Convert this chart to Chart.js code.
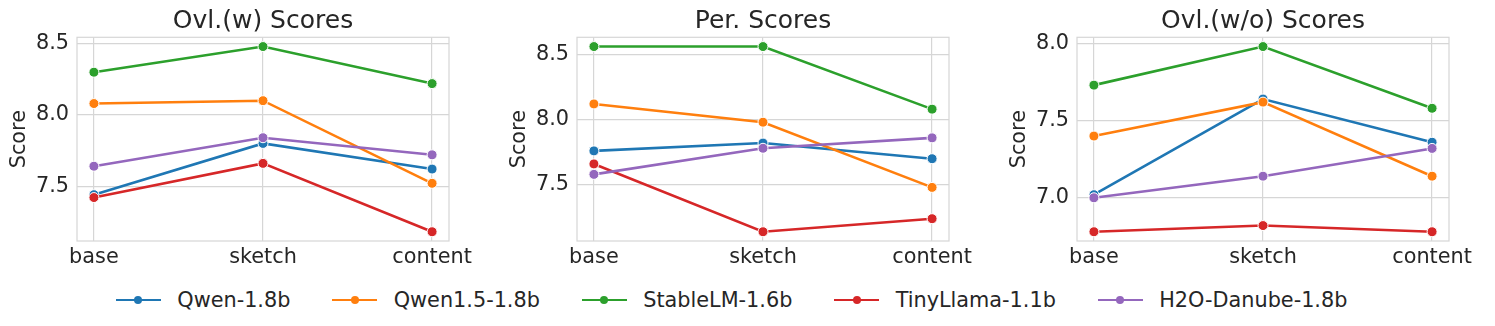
<!DOCTYPE html>
<html>
<head>
<meta charset="utf-8">
<script src="https://cdn.jsdelivr.net/npm/chart.js@4.4.1/dist/chart.umd.min.js"></script>
<style>
  html, body { margin: 0; padding: 0; background: #fff; overflow: hidden; }
  body { width: 1495px; height: 326px; position: relative; font-family: 'DejaVu Sans', sans-serif; }
  .cw { position: absolute; top: 0; width: 495px; height: 270px; }
  #legend { position: absolute; left: 116px; top: 287.5px; height: 25px; display: flex; align-items: center; color: #262626; font-size: 20.8px; white-space: nowrap; }
  .item { display: flex; align-items: center; margin-right: 42px; }
  .mk { position: relative; width: 44.7px; height: 2.6px; margin-right: 16.6px; }
  .mk i { position: absolute; left: 18.35px; top: -2.7px; width: 8px; height: 8px; border-radius: 50%; }
</style>
</head>
<body>
<div class="cw" style="left:0px"><canvas id="c1"></canvas></div>
<div class="cw" style="left:500px"><canvas id="c2"></canvas></div>
<div class="cw" style="left:1000px"><canvas id="c3"></canvas></div>
<div id="legend"></div>
<script>
// ---- data ----
const categories = ['base', 'sketch', 'content'];
const models = ['Qwen-1.8b', 'Qwen1.5-1.8b', 'StableLM-1.6b', 'TinyLlama-1.1b', 'H2O-Danube-1.8b'];
const colors = ['#1f77b4', '#ff7f0e', '#2ca02c', '#d62728', '#9467bd'];

const titles = ['Ovl.(w) Scores', 'Per. Scores', 'Ovl.(w/o) Scores'];

// Ovl.(w)
const ovlW_qwen      = [7.44, 7.80, 7.62];
const ovlW_qwen15    = [8.08, 8.10, 7.52];
const ovlW_stablelm  = [8.30, 8.48, 8.22];
const ovlW_tinyllama = [7.42, 7.66, 7.18];
const ovlW_h2o       = [7.64, 7.84, 7.72];
const ovlW_ticks     = [7.5, 8.0, 8.5];

// Per.
const per_qwen      = [7.76, 7.82, 7.70];
const per_qwen15    = [8.12, 7.98, 7.48];
const per_stablelm  = [8.56, 8.56, 8.08];
const per_tinyllama = [7.66, 7.14, 7.24];
const per_h2o       = [7.58, 7.78, 7.86];
const per_ticks     = [7.5, 8.0, 8.5];

// Ovl.(w/o)
const ovlWo_qwen      = [7.02, 7.64, 7.36];
const ovlWo_qwen15    = [7.40, 7.62, 7.14];
const ovlWo_stablelm  = [7.73, 7.98, 7.58];
const ovlWo_tinyllama = [6.78, 6.82, 6.78];
const ovlWo_h2o       = [7.00, 7.14, 7.32];
const ovlWo_ticks     = [7.0, 7.5, 8.0];

const panels = [
  { id: 'c1', title: titles[0], series: [ovlW_qwen, ovlW_qwen15, ovlW_stablelm, ovlW_tinyllama, ovlW_h2o], ticks: ovlW_ticks },
  { id: 'c2', title: titles[1], series: [per_qwen, per_qwen15, per_stablelm, per_tinyllama, per_h2o], ticks: per_ticks },
  { id: 'c3', title: titles[2], series: [ovlWo_qwen, ovlWo_qwen15, ovlWo_stablelm, ovlWo_tinyllama, ovlWo_h2o], ticks: ovlWo_ticks },
];

// ---- rendering ----
Chart.defaults.font.family = "'DejaVu Sans', sans-serif";
Chart.defaults.color = '#262626';

const GRID = '#d6d6d6';
const FS = 20.8;

const framePlugin = {
  id: 'frame',
  beforeDatasetsDraw(chart) {
    const a = chart.chartArea, ctx = chart.ctx;
    ctx.save();
    ctx.strokeStyle = GRID;
    ctx.lineWidth = 1.2;
    ctx.strokeRect(a.left, a.top, a.right - a.left, a.bottom - a.top);
    ctx.restore();
  }
};

panels.forEach(p => {
  const all = p.series.flat();
  const lo = Math.min(...all), hi = Math.max(...all);
  const m = (hi - lo) * 0.05;
  const datasets = p.series.map((vals, i) => ({
    label: models[i],
    data: vals.map((v, j) => ({ x: j, y: v })),
    borderColor: colors[i],
    backgroundColor: colors[i],
    borderWidth: 2.6,
    pointRadius: 5,
    pointHoverRadius: 5,
    pointBackgroundColor: colors[i],
    pointBorderColor: '#ffffff',
    pointBorderWidth: 1,
    tension: 0,
    order: models.length - i,
  }));
  new Chart(document.getElementById(p.id), {
    type: 'line',
    data: { datasets },
    options: {
      responsive: true,
      maintainAspectRatio: false,
      animation: false,
      events: [],
      layout: { padding: { left: 0, right: 46, top: 0, bottom: 0 } },
      plugins: {
        legend: { display: false },
        tooltip: { enabled: false },
        title: {
          display: true,
          fullSize: false,
          text: p.title,
          color: '#262626',
          font: { size: 25, weight: 'normal' },
          padding: { top: 6.7, bottom: 0.6 },
        },
      },
      scales: {
        x: {
          type: 'linear',
          min: -0.1,
          max: 2.1,
          afterBuildTicks: s => { s.ticks = categories.map((c, j) => ({ value: j })); },
          afterFit: s => { s.height = 29; },
          ticks: {
            callback: v => categories[v],
            font: { size: FS },
            color: '#262626',
            padding: 4.5,
            maxRotation: 0,
            autoSkip: false,
          },
          grid: { color: GRID, lineWidth: 1.2, drawTicks: false },
          border: { display: false },
        },
        y: {
          min: lo - m,
          max: hi + m,
          afterBuildTicks: s => { s.ticks = p.ticks.map(v => ({ value: v })); },
          afterFit: s => { s.width = 77; },
          ticks: {
            callback: v => v.toFixed(1),
            font: { size: FS },
            color: '#262626',
            padding: 8,
          },
          title: {
            display: true,
            text: 'Score',
            font: { size: FS },
            color: '#262626',
            padding: { top: 7, bottom: 0 },
          },
          grid: { color: GRID, lineWidth: 1.2, drawTicks: false },
          border: { display: false },
        },
      },
    },
    plugins: [framePlugin],
  });
});

// ---- shared legend ----
const leg = document.getElementById('legend');
models.forEach((name, i) => {
  const it = document.createElement('div');
  it.className = 'item';
  const mk = document.createElement('span');
  mk.className = 'mk';
  mk.style.background = colors[i];
  const dot = document.createElement('i');
  dot.style.background = colors[i];
  mk.appendChild(dot);
  const tx = document.createElement('span');
  tx.textContent = name;
  it.appendChild(mk);
  it.appendChild(tx);
  leg.appendChild(it);
});
</script>
</body>
</html>
